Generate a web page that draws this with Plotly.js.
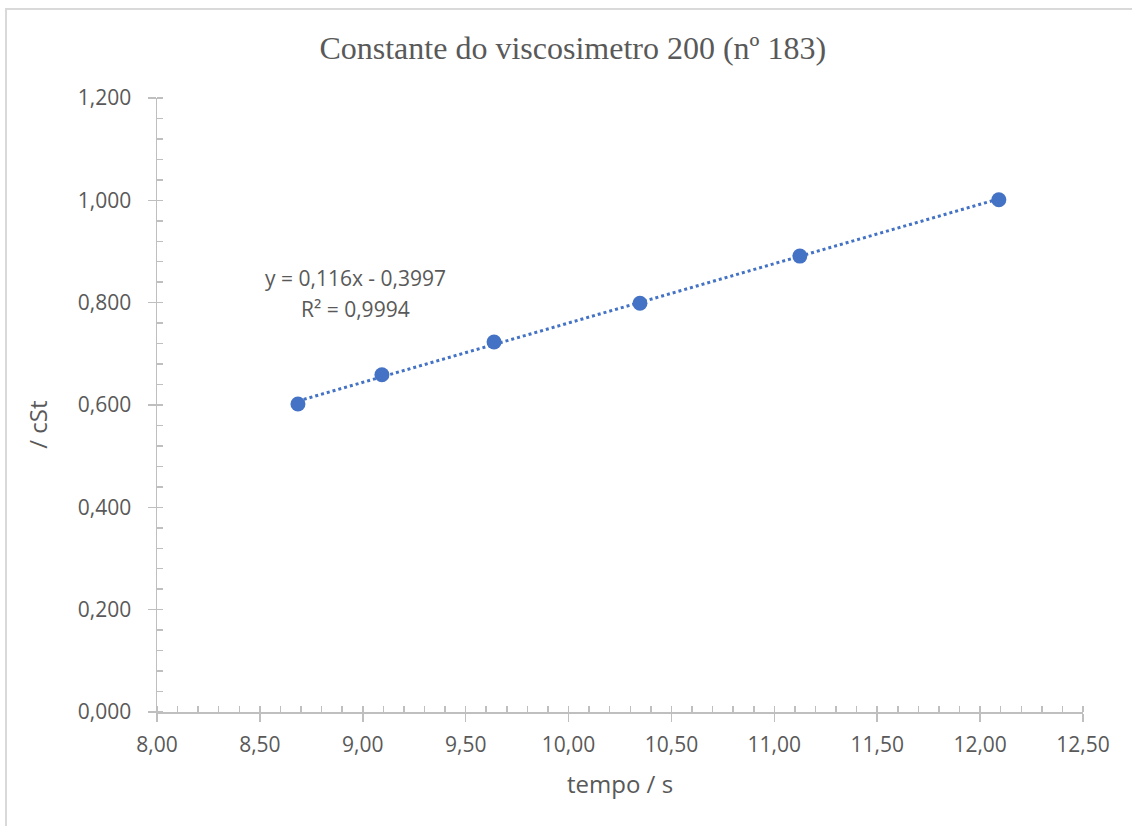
<!DOCTYPE html>
<html>
<head>
<meta charset="utf-8">
<script src="https://cdn.plot.ly/plotly-3.0.1.min.js"></script>
<style>
  html, body { margin: 0; padding: 0; background: #fff; }
  #wrap { position: relative; width: 1132px; height: 826px; overflow: hidden; }
  #frame { position: absolute; left: 5px; top: 8px; width: 1140px; height: 830px;
           border-left: 2px solid #d9d9d9; border-top: 2px solid #d9d9d9; box-sizing: border-box; pointer-events: none; }
  #chart { position: absolute; left: 0; top: 0; width: 1132px; height: 826px; }
</style>
</head>
<body>
<div id="wrap">
  <div id="chart"></div>
  <div id="frame"></div>
</div>
<script>
// Flow time (s) and kinematic viscosity (cSt) for viscometer 200 (nº 183)
const tempo = [8.685, 9.093, 9.638, 10.347, 11.124, 12.091];
const viscosidade = [0.602, 0.659, 0.723, 0.799, 0.891, 1.001];

// Linear trendline coefficients
const slope = 0.116;
const intercept = -0.3997;
const r2 = 0.9994;

const xTicks = [8.0, 8.5, 9.0, 9.5, 10.0, 10.5, 11.0, 11.5, 12.0, 12.5];
const yTicks = [0.0, 0.2, 0.4, 0.6, 0.8, 1.0, 1.2];

const blue = '#4472C4';
const grey = '#bfbfbf';
const textGrey = '#595959';
const sans = '"Open Sans", sans-serif';

const fmt = (v, d) => v.toFixed(d).replace('.', ',');

const xMin = Math.min(...tempo), xMax = Math.max(...tempo);
const trendX = [xMin, xMax];
const trendY = trendX.map(x => slope * x + intercept);

const traces = [
  {
    x: trendX, y: trendY, mode: 'lines', type: 'scatter',
    line: { color: blue, width: 3, dash: 'dot' },
    hoverinfo: 'skip', showlegend: false
  },
  {
    x: tempo, y: viscosidade, mode: 'markers', type: 'scatter',
    marker: { color: blue, size: 15 },
    showlegend: false
  },
  // empty trace that brings up the overlay axes
  {
    x: [], y: [], xaxis: 'x2', yaxis: 'y2', type: 'scatter', mode: 'markers',
    showlegend: false, hoverinfo: 'skip'
  }
];

const xRange = [xTicks[0], xTicks[xTicks.length - 1]];
const yRange = [yTicks[0], yTicks[yTicks.length - 1]];

const baseAxis = {
  showgrid: false, zeroline: false, showline: true,
  linecolor: grey, linewidth: 1.5,
  ticks: 'outside', ticklen: 8, tickwidth: 1.5, tickcolor: grey,
  tickfont: { family: sans, size: 21, color: textGrey }
};

const layout = {
  width: 1132, height: 826,
  margin: { l: 157, r: 49, t: 98, b: 114 },
  paper_bgcolor: '#fff', plot_bgcolor: '#fff',
  separators: ',.',
  showlegend: false,
  title: {
    text: 'Constante do viscosimetro 200 (nº 183)',
    font: { family: '"Liberation Serif", "Times New Roman", serif', size: 32, color: textGrey },
    x: 0.506, xanchor: 'center', y: 0.942, yanchor: 'middle'
  },
  xaxis: Object.assign({}, baseAxis, {
    range: xRange, tickvals: xTicks, ticktext: xTicks.map(v => fmt(v, 2)),
    ticklabelstandoff: 5,
    minor: { dtick: 0.1, ticks: 'inside', ticklen: 6, tickwidth: 1.5, tickcolor: grey }
  }),
  yaxis: Object.assign({}, baseAxis, {
    range: yRange, tickvals: yTicks, ticktext: yTicks.map(v => fmt(v, 3)),
    ticklabelstandoff: 12,
    minor: { dtick: 0.04, ticks: 'inside', ticklen: 6, tickwidth: 1.5, tickcolor: grey }
  }),
  // inner halves of the major ticks, so they cross the axis line
  xaxis2: {
    overlaying: 'x', range: xRange, tickvals: xTicks, showticklabels: false,
    ticks: 'inside', ticklen: 6, tickwidth: 1.5, tickcolor: grey,
    showline: false, showgrid: false, zeroline: false, side: 'bottom'
  },
  yaxis2: {
    overlaying: 'y', range: yRange, tickvals: yTicks, showticklabels: false,
    ticks: 'inside', ticklen: 6, tickwidth: 1.5, tickcolor: grey,
    showline: false, showgrid: false, zeroline: false, side: 'left'
  },
  annotations: [
    {
      xref: 'paper', yref: 'paper', x: 0.4995, y: -0.116, xanchor: 'center', yanchor: 'middle',
      text: 'tempo / s', showarrow: false,
      font: { family: sans, size: 24, color: textGrey }
    },
    {
      xref: 'paper', yref: 'paper', x: -0.129, y: 0.467, xanchor: 'center', yanchor: 'middle',
      text: '/ cSt', textangle: -90, showarrow: false,
      font: { family: sans, size: 24, color: textGrey }
    },
    {
      xref: 'paper', yref: 'paper', x: 0.214, y: 0.707, xanchor: 'center', yanchor: 'middle',
      text: 'y = ' + fmt(slope, 3) + 'x - ' + fmt(Math.abs(intercept), 4),
      showarrow: false,
      font: { family: sans, size: 21, color: textGrey }
    },
    {
      xref: 'paper', yref: 'paper', x: 0.214, y: 0.657, xanchor: 'center', yanchor: 'middle',
      text: 'R² = ' + fmt(r2, 4),
      showarrow: false,
      font: { family: sans, size: 21, color: textGrey }
    }
  ]
};

Plotly.newPlot('chart', traces, layout, { displayModeBar: false, staticPlot: true });
</script>
</body>
</html>
